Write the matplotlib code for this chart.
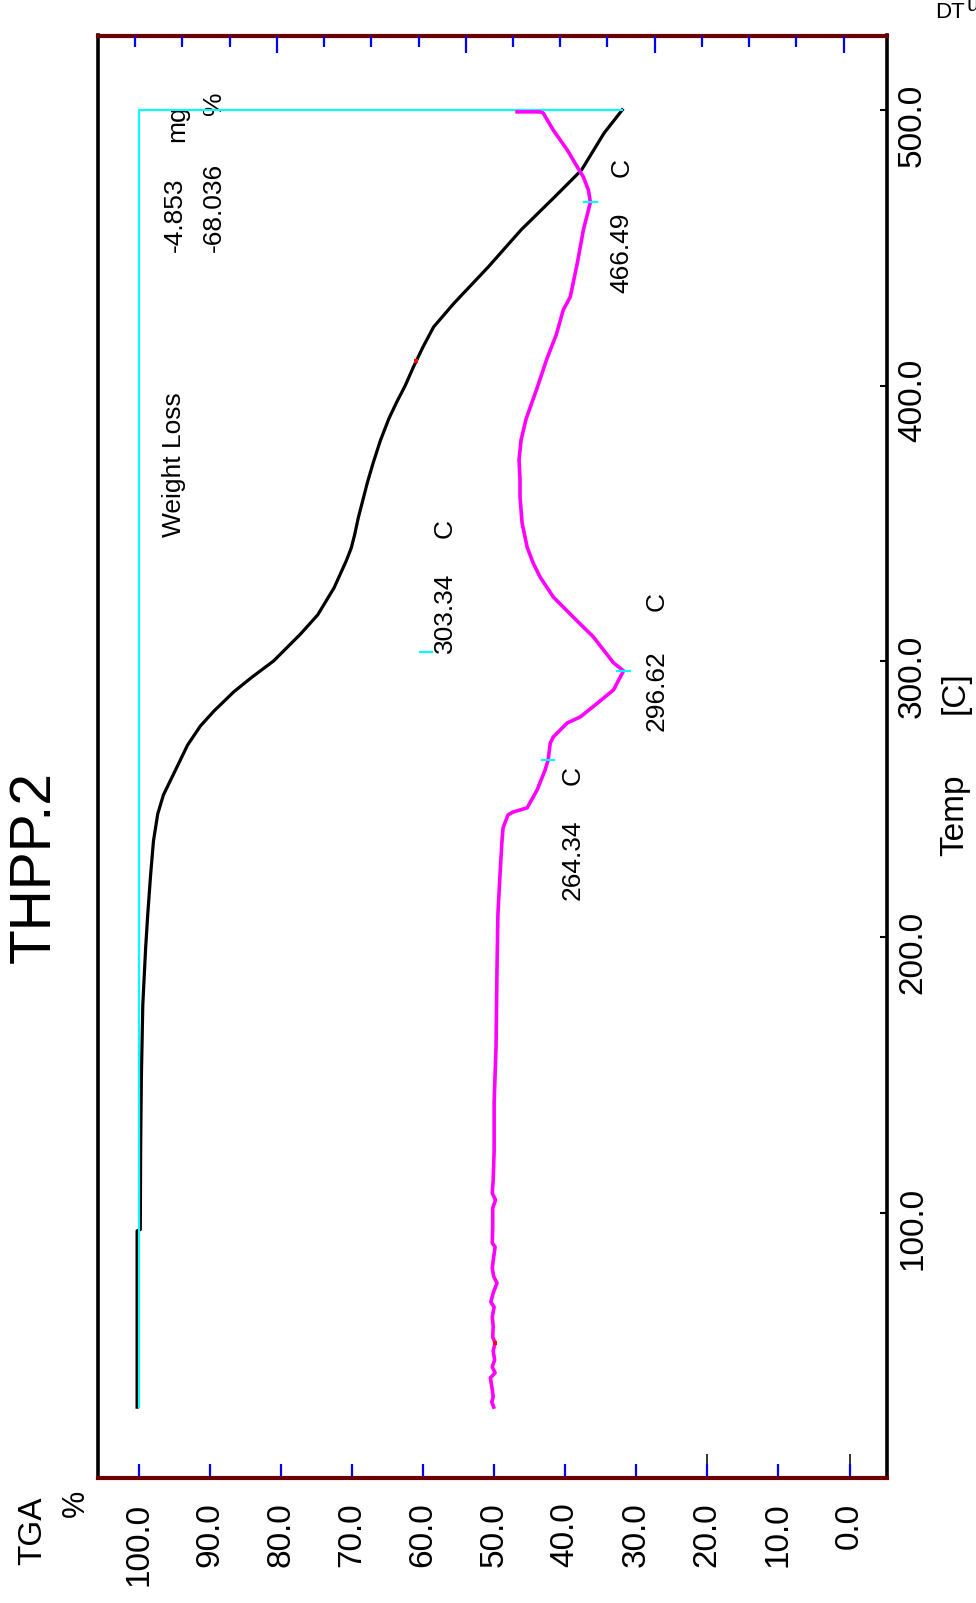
import numpy as np
import matplotlib
matplotlib.use("Agg")
import matplotlib.pyplot as plt
from matplotlib import transforms

plt.rcParams["font.family"] = ["Liberation Sans", "DejaVu Sans"]

# ---------------------------------------------------------------- data
sample_name = "THPP.2"

# TGA: temperature [C] and remaining mass [%]
tga_temp = [29.6, 93.5, 94.0, 124.0, 149.0, 175.4, 196.1, 208.4, 222.6, 234.9,
            244.7, 251.6, 258.5, 269.7, 276.6, 282.0, 289.0, 294.0, 300.2, 310.0,
            316.9, 326.7, 336.4, 341.0, 346.0, 352.0, 358.0, 365.0, 372.0, 380.0,
            388.0, 394.0, 400.0, 407.0, 414.0, 421.3, 430.0, 443.1, 456.5, 468.4,
            478.2, 491.7, 500.0]
tga_pct = [100.2, 100.2, 99.75, 99.7, 99.6, 99.4, 99.0, 98.7, 98.3, 97.9,
           97.3, 96.5, 95.2, 93.1, 91.3, 89.4, 86.6, 84.2, 81.0, 77.2,
           74.8, 72.5, 70.8, 70.1, 69.6, 69.1, 68.5, 67.8, 67.0, 66.0,
           64.8, 63.7, 62.5, 61.3, 60.0, 58.5, 55.6, 50.8, 46.2, 41.5,
           37.7, 34.5, 31.964]

# DTA: temperature [C] and signal [uV]
dta_temp = [29.6, 31.5, 33.3, 36.0, 40.2, 42.0, 44.2, 46.7, 50.0, 52.9,
            55.0, 59.0, 62.3, 65.9, 67.7, 71.0, 74.6, 77.0, 80.0, 84.0,
            87.7, 89.1, 95.0, 101.8, 104.7, 107.2, 112.0, 122.8, 140.0, 160.2,
            187.8, 208.4, 222.6, 234.9, 239.6, 244.4, 245.4, 246.9, 253.4, 260.7,
            264.3, 270.4, 272.6, 277.7, 279.9, 284.9, 289.7, 296.6, 299.5, 308.9,
            316.1, 323.4, 330.6, 335.7, 341.5, 350.2, 359.7, 365.8, 373.1, 380.3,
            387.9, 399.2, 410.1, 418.4, 427.5, 432.2, 444.5, 456.5, 466.5, 471.0,
            475.7, 479.3, 485.5, 492.7, 498.9, 499.3, 499.3]
dta_uv = [-2.95, -2.75, -2.90, -2.80, -2.60, -3.10, -2.80, -3.05, -2.90, -3.10,
          -2.85, -2.90, -2.80, -3.00, -2.65, -2.90, -3.30, -2.95, -2.80, -2.95,
          -3.10, -2.80, -2.85, -2.85, -3.15, -2.80, -2.90, -3.00, -3.00, -3.20,
          -3.30, -3.40, -3.62, -3.83, -3.94, -4.47, -5.00, -6.49, -7.55, -8.40,
          -8.72, -8.94, -9.26, -10.74, -12.13, -13.94, -15.64, -16.70, -15.64, -13.51,
          -11.38, -9.26, -7.87, -7.13, -6.49, -5.96, -5.74, -5.74, -5.64, -5.85,
          -6.38, -7.55, -8.62, -9.57, -10.32, -11.06, -11.81, -12.45, -13.19, -12.98,
          -12.45, -11.81, -10.74, -9.26, -8.19, -7.87, -5.43]

# weight-loss evaluation
wl_mg = -4.853
wl_pct = -68.036
wl_t_end = 500.0

# peak temperatures picked on the DTA curve, and the DTG peak
dta_peaks = [264.34, 296.62, 466.49]
dtg_peak = 303.34

tga_ticks = [100.0, 90.0, 80.0, 70.0, 60.0, 50.0, 40.0, 30.0, 20.0, 10.0, 0.0]
temp_ticks = [100.0, 200.0, 300.0, 400.0, 500.0]

# ---------------------------------------------------------------- layout
W, H, DPI = 976, 1603, 100
fig = plt.figure(figsize=(W / DPI, H / DPI), dpi=DPI)
fig.patch.set_facecolor("white")

L, R, T, B = 97.5, 887.0, 35.5, 1477.5
ax = fig.add_axes([L / W, 1 - B / H, (R - L) / W, (B - T) / H])
ax.set_xlim(105.77, -5.27)
ax.set_ylim(4.08, 527.0)

maroon = "#6b0000"
for side in ("left", "right"):
    ax.spines[side].set_color("black")
    ax.spines[side].set_linewidth(2.6)
for side in ("top", "bottom"):
    ax.spines[side].set_color(maroon)
    ax.spines[side].set_linewidth(3.0)

# bottom axis: TGA %
ax.set_xticks(tga_ticks)
ax.set_xticklabels([f"{v:.1f}" for v in tga_ticks])
ax.tick_params(axis="x", which="major", direction="in", length=10, width=1.6,
               color="#0000ff", labelcolor="black", labelsize=24,
               labelrotation=90, pad=18, top=False, bottom=True)
ax.vlines([20.0, 0.0], 0, 24 / (B - T), transform=ax.get_xaxis_transform(),
          color="#222222", lw=1.3, zorder=1)

# right axis: temperature
ax.yaxis.tick_right()
ax.set_yticks(temp_ticks)
ax.tick_params(axis="y", which="major", direction="in", length=5, width=1.5,
               color="black", labelright=False, left=False, right=True)
lab_tr = transforms.offset_copy(ax.get_yaxis_transform(), fig=fig,
                                x=10, y=-15, units="dots")
for t in temp_ticks:
    ax.text(1.0, t, f"{t:.1f}", transform=lab_tr, rotation=90,
            ha="left", va="center", fontsize=24, clip_on=False)

# top axis: DTA uV
ax2 = ax.twiny()
ax2.set_xlim(39.0, -44.6)
ax2.set_ylim(ax.get_ylim())
for s in ax2.spines.values():
    s.set_visible(False)
ax2.set_xticks(np.arange(-40, 36, 20))
ax2.set_xticks(np.arange(-40, 36, 5), minor=True)
ax2.tick_params(axis="x", which="major", direction="in", length=12, width=1.6,
                color="#0000ff", labeltop=False, labelbottom=False,
                top=True, bottom=False)
ax2.tick_params(axis="x", which="minor", direction="in", length=8, width=1.6,
                color="#0000ff", top=True, bottom=False)

# ---------------------------------------------------------------- curves
ax.plot(tga_pct, tga_temp, color="black", lw=2.3, zorder=3,
        solid_joinstyle="round")
ax2.plot(dta_uv, dta_temp, color="#ff00ff", lw=2.6, zorder=3,
         solid_joinstyle="round")

# small red cursor specks on the curves
t_red = 409.0
ax.plot([np.interp(t_red, tga_temp, tga_pct)], [t_red], "s", color="red",
        ms=2.2, mew=0, zorder=4)
t_red2 = 53.0
ax2.plot([np.interp(t_red2, dta_temp, dta_uv)], [t_red2], "s", color="red",
         ms=2.2, mew=0, zorder=4)

# weight-loss bracket
ax.plot([100.0, 100.0, 100.0 + wl_pct], [tga_temp[0], wl_t_end, wl_t_end],
        color="#00ffff", lw=1.5, zorder=4)

# peak markers
for tp in dta_peaks:
    v = np.interp(tp, dta_temp, dta_uv)
    ax2.plot([v + 0.65, v - 0.65], [tp, tp], color="#00ffff", lw=1.6, zorder=5)
ax.plot([60.45, 58.75], [dtg_peak, dtg_peak], color="#00ffff", lw=1.6, zorder=5)

# ---------------------------------------------------------------- annotations
ann = dict(rotation=90, rotation_mode="anchor", ha="left", va="center",
           fontsize=19, color="black")
ax.text(95.0, 345.2, "Weight Loss", **ann)
ax.text(94.9, 448.5, f"{wl_mg:.3f}", **ann)
ax.text(94.6, 488.4, "mg", **ann)
ax.text(89.4, 448.5, f"{wl_pct:.3f}", **ann)
ax.text(89.4, 498.2, "%", **ann)

peak_label_pos = {264.34: (39.0, 213.5, 255.2),
                  296.62: (27.1, 274.8, 318.3),
                  303.34: (56.9, 303.1, 344.8),
                  466.49: (32.1, 433.6, 475.7)}
for tp in dta_peaks + [dtg_peak]:
    xl, y_val, y_c = peak_label_pos[tp]
    ax.text(xl, y_val, f"{tp:.2f}", **ann)
    ax.text(xl, y_c, "C", **ann)

# ---------------------------------------------------------------- titles
def fx(x):
    return x / W

def fy(y):
    return 1 - y / H

fig.text(fx(35), fy(867), sample_name, rotation=90, ha="center", va="center",
         fontsize=41)
fig.text(fx(33), fy(1531), "TGA", rotation=90, ha="center", va="center",
         fontsize=24)
fig.text(fx(76), fy(1503), "%", rotation=90, ha="center", va="center",
         fontsize=22)
fig.text(fx(955), fy(815), "Temp", rotation=90, ha="center", va="center",
         fontsize=24)
fig.text(fx(955), fy(693), "[C]", rotation=90, ha="center", va="center",
         fontsize=24)
# right-hand axis caption at the top edge
fig.text(fx(935), fy(18), "DT", ha="left", va="baseline", fontsize=16)
fig.text(fx(966), fy(11), "u", ha="left", va="baseline", fontsize=16)

fig.savefig("out.png", dpi=DPI, facecolor="white")
